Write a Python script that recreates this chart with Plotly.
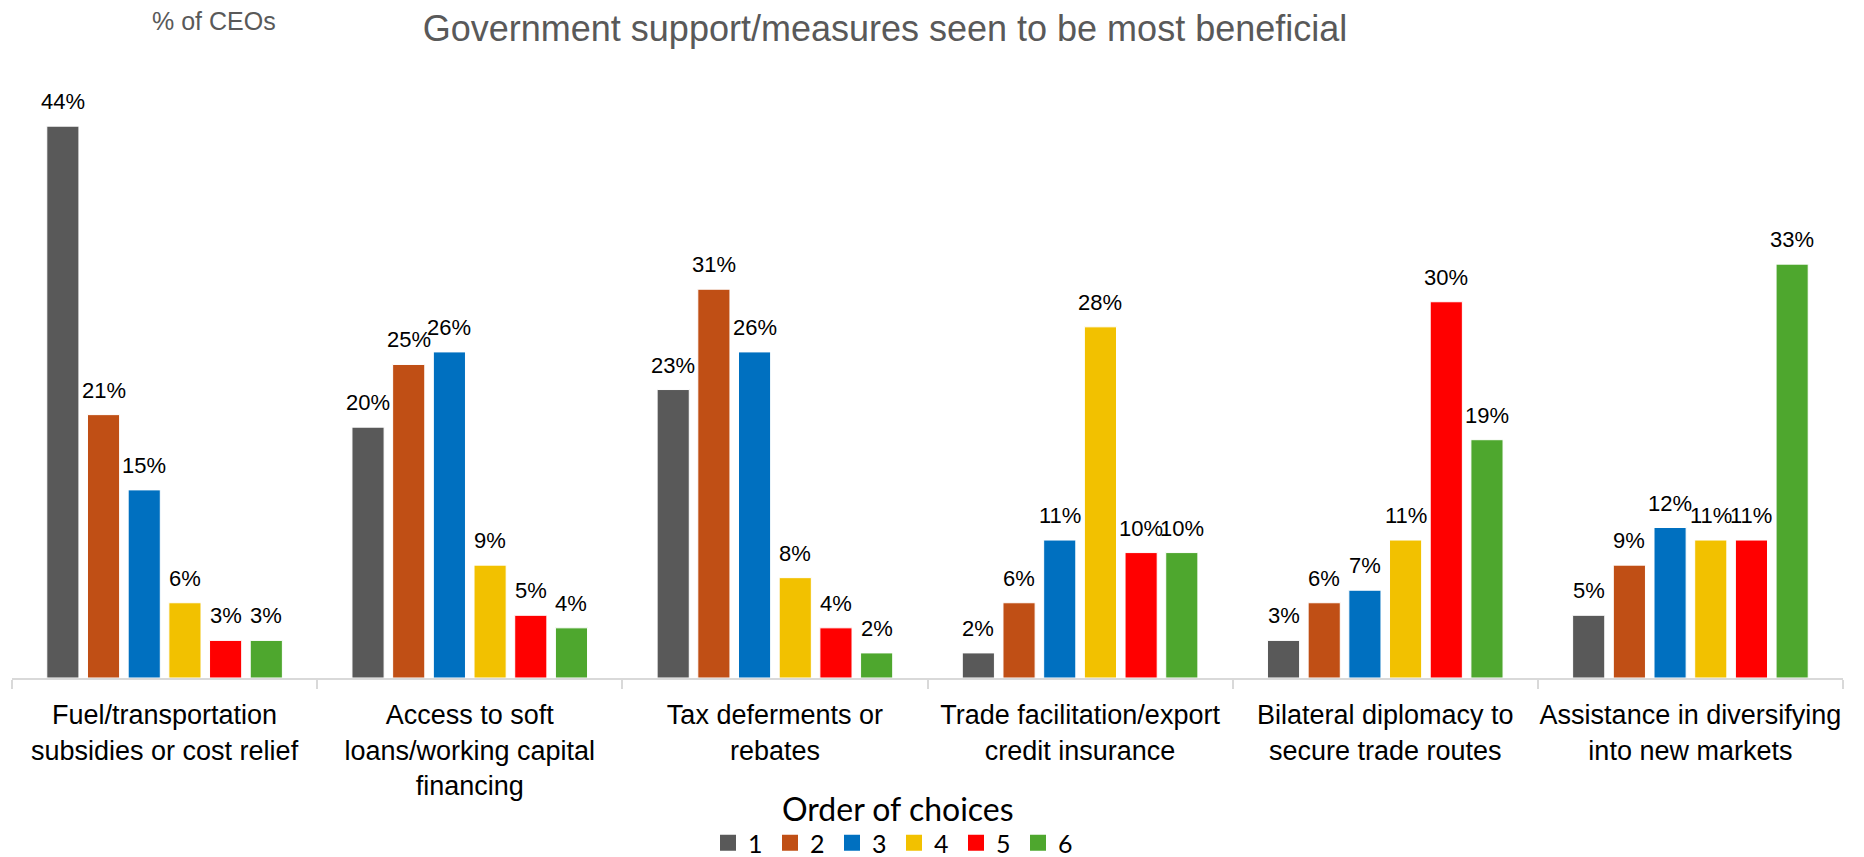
import plotly.graph_objects as go

# Survey results: share of CEOs ranking each measure, by order of choice
categories = [
    "Fuel/transportation<br>subsidies or cost relief",
    "Access to soft<br>loans/working capital<br>financing",
    "Tax deferments or<br>rebates",
    "Trade facilitation/export<br>credit insurance",
    "Bilateral diplomacy to<br>secure trade routes",
    "Assistance in diversifying<br>into new markets",
]
choice_names = ["1", "2", "3", "4", "5", "6"]
choice_1 = [44, 20, 23, 2, 3, 5]
choice_2 = [21, 25, 31, 6, 6, 9]
choice_3 = [15, 26, 26, 11, 7, 12]
choice_4 = [6, 9, 8, 28, 11, 11]
choice_5 = [3, 5, 4, 10, 30, 11]
choice_6 = [3, 4, 2, 10, 19, 33]
series = [choice_1, choice_2, choice_3, choice_4, choice_5, choice_6]
colors = ["#595959", "#C04F15", "#0070C0", "#F2C100", "#FF0000", "#4EA72E"]

W, H = 1864, 857
M_L, M_R, M_T, M_B = 12, 21, 76, 179
BARGAP, BARGROUPGAP = 0.2, 0.21
Y_MAX = 48

fig = go.Figure()

for name, vals, col in zip(choice_names, series, colors):
    fig.add_bar(
        x=categories, y=vals, name=name,
        marker=dict(color=col, line=dict(color="white", width=1)),
        showlegend=False, hoverinfo="x+y",
    )

# legend entries with larger square swatches
for name, col in zip(choice_names, colors):
    fig.add_scatter(
        x=[None], y=[None], mode="markers", name=name,
        marker=dict(symbol="square", size=16, color=col),
        showlegend=True,
    )

# value labels above each bar, shifted to the bar's slot within its group
plot_w = W - M_L - M_R
plot_h = H - M_T - M_B
cat_px = plot_w / len(categories)
slot_px = cat_px * (1 - BARGAP) / len(series)
annotations = []
for i, vals in enumerate(series):
    for cat, v in zip(categories, vals):
        annotations.append(dict(
            x=cat, y=v, xref="x", yref="y",
            text=f"{v}%", showarrow=False,
            xanchor="center", yanchor="bottom",
            xshift=(i - (len(series) - 1) / 2) * slot_px, yshift=10,
            font=dict(family="Liberation Sans, Arial, sans-serif", size=22, color="#000000"),
        ))

annotations.append(dict(
    text="% of CEOs", xref="paper", yref="paper",
    x=(214 - M_L) / plot_w, y=(H - M_B - 21) / plot_h,
    xanchor="center", yanchor="middle", showarrow=False,
    font=dict(family="Liberation Sans, Arial, sans-serif", size=25, color="#595959"),
))

# legend heading
annotations.append(dict(
    text="Order of choices", xref="paper", yref="paper",
    x=(898 - M_L) / plot_w, y=(H - M_B - 808) / plot_h,
    xanchor="center", yanchor="middle", showarrow=False,
    font=dict(family="Lato, sans-serif", size=32, color="#000000"),
))

fig.update_layout(
    width=W, height=H, autosize=False,
    margin=dict(l=M_L, r=M_R, t=M_T, b=M_B, pad=0),
    paper_bgcolor="white", plot_bgcolor="white",
    barmode="group", bargap=BARGAP, bargroupgap=BARGROUPGAP,
    title=dict(
        text="Government support/measures seen to be most beneficial",
        x=885 / W, xanchor="center", y=1 - 28 / H, yanchor="middle",
        font=dict(family="Liberation Sans, Arial, sans-serif", size=36, color="#595959"),
    ),
    xaxis=dict(
        showline=True, linecolor="#D9D9D9", linewidth=2,
        ticks="outside", tickson="boundaries", ticklen=9,
        tickcolor="#D9D9D9", tickwidth=2, showgrid=False,
        tickangle=0, ticklabelstandoff=12, automargin=False,
        tickfont=dict(family="Liberation Sans, Arial, sans-serif", size=27, color="#000000"),
    ),
    yaxis=dict(visible=False, range=[0, Y_MAX], showgrid=False, zeroline=False),
    legend=dict(
        orientation="h", x=894 / W, xanchor="center", xref="container",
        y=(H - 843) / H, yanchor="middle", yref="container",
        bgcolor="rgba(0,0,0,0)",
        font=dict(family="Lato, sans-serif", size=25, color="#000000"),
        entrywidthmode="pixels", entrywidth=17,
        itemsizing="trace", tracegroupgap=0,
    ),
    annotations=annotations,
)

fig.write_html("out.html")
